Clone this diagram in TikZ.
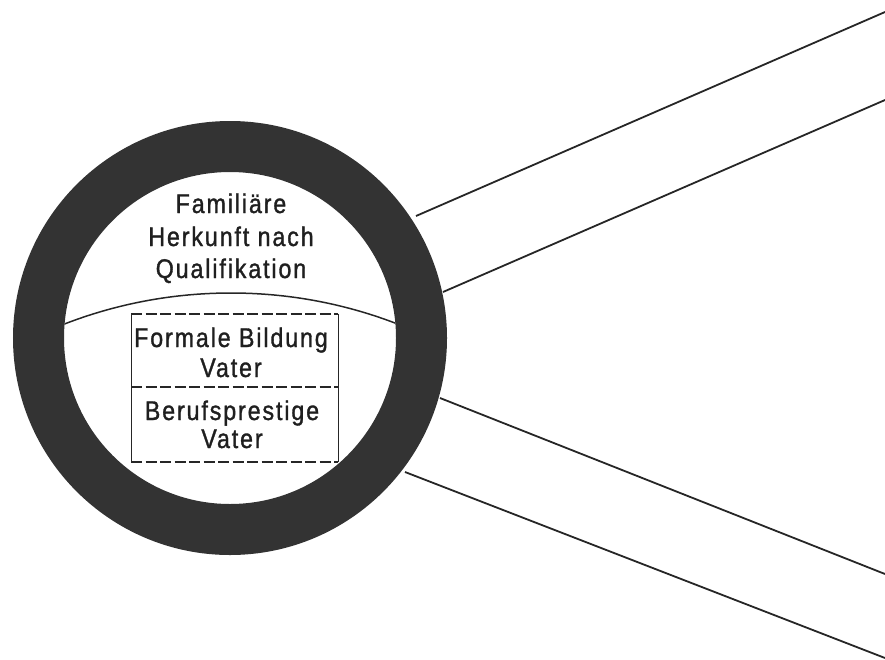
\documentclass[tikz,border=0pt]{standalone}
\usepackage{fontspec}
\setmainfont{Liberation Sans}[LetterSpace=7, FakeStretch=0.86, FakeBold=1.2]
\begin{document}
\begin{tikzpicture}[x=1pt,y=-1pt,
  ringc/.style={draw=black!80},
  ray/.style={line width=1.8pt, draw=black!85},
  lbl/.style={font=\fontsize{27}{30}\selectfont, text=black!88, anchor=base, inner sep=0pt},
  dline/.style={line width=1.4pt, draw=black!85, dash pattern=on 11pt off 3.5pt},
  sline/.style={line width=1pt, draw=black!85}]
\useasboundingbox (0,0) rectangle (885,659);
% ring
\node[circle, ringc, line width=51pt, minimum size=383pt, inner sep=0pt] (ring) at (230,338) {};
% divider arc
\begin{scope}
  \clip (230,338) circle (166pt);
  \draw[line width=1.5pt, draw=black!85] (231,754) circle (461pt);
\end{scope}
% box
\coordinate (bTL) at (131,314);
\coordinate (bTR) at (338,314);
\coordinate (bML) at (131,387);
\coordinate (bMR) at (338,387);
\coordinate (bBL) at (131,462);
\coordinate (bBR) at (338,462);
\draw[dline] (bTL) -- (bTR);
\draw[dline] (bML) -- (bMR);
\draw[dline] (bBL) -- (bBR);
\draw[sline] (bTL) -- (bBL);
\draw[sline] (bTR) -- (bBR);
% texts
\node[lbl] (t1) at (231,213) {Familiäre};
\node[lbl] (t2) at (231,246) {Herkunft nach};
\node[lbl] (t3) at (231,278) {Qualifikation};
\node[lbl] (t4) at (231,347) {Formale Bildung};
\node[lbl] (t5) at (231,377) {Vater};
\node[lbl] (t6) at (232,420) {Berufsprestige};
\node[lbl] (t7) at (232,448) {Vater};
% rays
\coordinate (a1) at (416,216); \coordinate (e1) at (885,12);
\coordinate (a2) at (443,292); \coordinate (e2) at (885,100);
\coordinate (a3) at (440,398); \coordinate (e3) at (885,574);
\coordinate (a4) at (405,472); \coordinate (e4) at (885,658);
\draw[ray] (a1) -- (e1);
\draw[ray] (a2) -- (e2);
\draw[ray] (a3) -- (e3);
\draw[ray] (a4) -- (e4);
\end{tikzpicture}
\end{document}
